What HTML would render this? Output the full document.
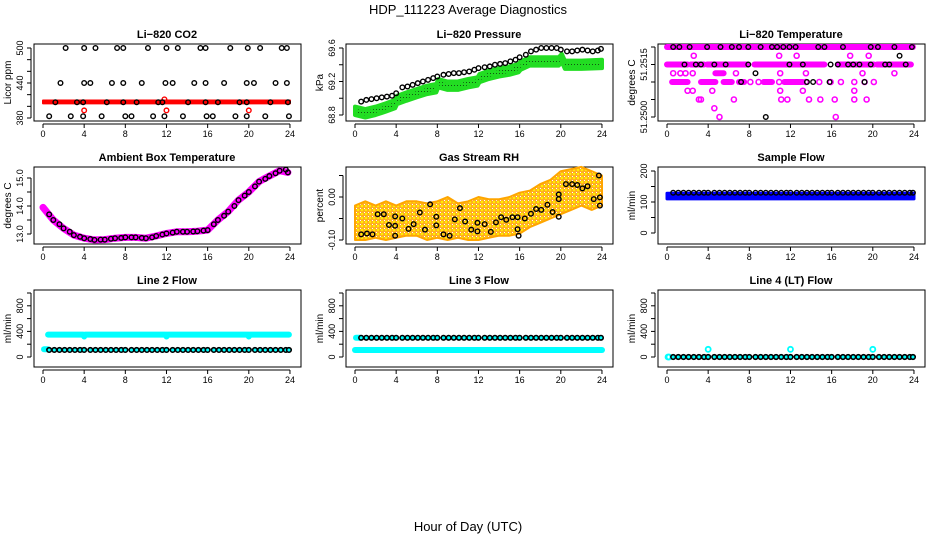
<!DOCTYPE html>
<html><head><meta charset="utf-8"><style>
html,body{margin:0;padding:0;background:#fff}
svg{display:block;font-family:"Liberation Sans",sans-serif}
</style></head><body>
<svg id="chart" width="936" height="540" viewBox="0 0 936 540" xmlns="http://www.w3.org/2000/svg">
<defs>
<pattern id="grnPat" width="3" height="3" patternUnits="userSpaceOnUse"><rect width="3" height="3" fill="#22dd22"/><rect x="1" y="1" width="1" height="1" fill="#115511"/></pattern>
<pattern id="orgPat" width="4" height="4" patternUnits="userSpaceOnUse"><rect width="4" height="4" fill="#ffb020"/><rect x="1" y="1" width="2" height="2" fill="#ffee00"/><rect x="0" y="0" width="1" height="1" fill="#ffffff"/></pattern>
</defs>
<text x="468" y="14" text-anchor="middle" font-size="13">HDP_111223  Average Diagnostics</text>
<text x="468" y="531" text-anchor="middle" font-size="13">Hour of Day (UTC)</text>
<g id="plots"></g>
</svg>
<script>
// ---------- data ----------
const xTicks = [0,4,8,12,16,20,24];
const T = [0.6,1.1,1.6,2.1,2.6,3.1,3.6,4.0,4.6,5.1,5.6,6.1,6.6,7.1,7.6,8.0,8.6,9.1,9.6,10.1,10.6,11.1,11.6,12.0,12.6,13.1,13.6,14.1,14.6,15.1,15.6,16.0,16.6,17.1,17.6,18.1,18.6,19.1,19.6,20.0,20.6,21.1,21.6,22.1,22.6,23.1,23.6,23.9];

// CO2
const co2BlackT = [2.2,4.0,5.1,7.2,7.8,10.2,12.0,13.1,15.3,15.8,18.2,19.9,21.1,23.2,23.7, 1.7,4.0,4.6,6.7,7.8,9.6,11.9,12.6,14.7,15.8,17.6,19.8,20.5,22.6,23.7, 1.2,3.3,3.9,6.2,7.8,9.1,11.2,11.6,14.1,15.8,17.0,19.1,19.8,22.1,23.8, 0.6,2.7,3.9,5.7,8.0,8.6,10.7,11.8,13.6,15.9,16.5,18.7,19.8,21.6,23.9];
const co2BlackV = [500,500,500,500,500,500,500,500,500,500,500,500,500,500,500, 440,440,440,440,440,440,440,440,440,440,440,440,440,440,440, 407,407,407,407,407,407,407,407,407,407,407,407,407,407,407, 383,383,383,383,383,383,383,383,383,383,383,383,383,383,383];
const co2BandT = [0,24];
const co2BandLo = [405,405];
const co2BandHi = [410,410];
const co2RedT = [4.0,12.0,20.0,11.8];
const co2RedV = [393,393,393,412];

// Pressure
const prBlackT = [0.6,1.1,1.6,2.1,2.6,3.1,3.6,4.0,4.6,5.1,5.6,6.1,6.6,7.1,7.6,8.0,8.6,9.1,9.6,10.1,10.6,11.1,11.6,12.0,12.6,13.1,13.6,14.1,14.6,15.1,15.6,16.0,16.6,17.1,17.6,18.1,18.6,19.1,19.6,20.0,20.6,21.1,21.6,22.1,22.6,23.1,23.6,23.9];
const prBlackV = [68.96,68.98,68.99,69.00,69.01,69.02,69.03,69.06,69.13,69.14,69.16,69.18,69.20,69.22,69.24,69.26,69.28,69.29,69.30,69.30,69.31,69.32,69.34,69.36,69.37,69.38,69.40,69.41,69.42,69.44,69.46,69.49,69.52,69.56,69.58,69.60,69.60,69.60,69.60,69.58,69.56,69.56,69.57,69.58,69.57,69.56,69.57,69.59];
const prBandT = [0,1,2,3,3.9,4.1,5,6,7,7.9,8.1,9,10,11,11.9,12.1,13,14,15,15.9,16.1,17,18,19,19.8,20.1,20.4,22,24];
const prBandC = [68.85,68.82,68.85,68.89,68.93,68.98,69.02,69.06,69.10,69.12,69.18,69.15,69.15,69.18,69.20,69.24,69.28,69.31,69.33,69.36,69.39,69.44,69.44,69.44,69.44,69.48,69.40,69.40,69.41];
const prBandHalf = 0.05;

// Li-820 temperature
const tmpSegLevel = [51.2520,51.2515,51.2515,51.2515,51.2515,51.2515,51.2515,51.25125,51.2510,51.2510,51.2510,51.2510,51.2510,51.2510];
const tmpSegStart = [0,0,2.3,3.9,8.5,16.6,20.4,4.7,0.5,3.3,5.5,7.0,9.4,11.4];
const tmpSegEnd = [23.9,2.0,3.6,7.8,15.3,20.1,23.7,5.5,2.0,4.7,6.3,7.5,10.2,13.2];
const tmpPtT = [2.6,10.9,12.6,17.8,19.6, 0.6,1.3,1.8,2.5,6.7,11.0,13.5,19.0,22.1, 8.1,8.9,10.9,13.5,14.8,15.9,16.9,18.2,19.2,20.1, 2.0,2.5,4.4,11.0,13.2,18.2, 3.1,3.3,6.5,11.1,11.7,13.8,14.9,16.3,18.2,19.4, 4.6, 5.1,16.4];
const tmpPtV = [51.25175,51.25175,51.25175,51.25175,51.25175, 51.25125,51.25125,51.25125,51.25125,51.25125,51.25125,51.25125,51.25125,51.25125, 51.2510,51.2510,51.2510,51.2510,51.2510,51.2510,51.2510,51.2510,51.2510,51.2510, 51.25075,51.25075,51.25075,51.25075,51.25075,51.25075, 51.2505,51.2505,51.2505,51.2505,51.2505,51.2505,51.2505,51.2505,51.2505,51.2505, 51.25025, 51.2500,51.2500];
const tmpBlackT = [0.6,1.2,2.2,3.9,5.2,6.3,7.0,7.9,9.1,10.2,10.7,11.3,11.9,12.5,14.7,15.3,17.1,19.8,20.5,22.1,23.8, 1.7,2.8,3.3,4.6,5.7,7.9,11.9,13.2,15.9,16.6,17.6,18.1,18.7,19.8,21.2,21.6,23.2, 8.6, 7.2,13.6,14.2,15.8,19.2, 22.6, 9.6];
const tmpBlackV = [51.2520,51.2520,51.2520,51.2520,51.2520,51.2520,51.2520,51.2520,51.2520,51.2520,51.2520,51.2520,51.2520,51.2520,51.2520,51.2520,51.2520,51.2520,51.2520,51.2520,51.2520, 51.2515,51.2515,51.2515,51.2515,51.2515,51.2515,51.2515,51.2515,51.2515,51.2515,51.2515,51.2515,51.2515,51.2515,51.2515,51.2515,51.2515, 51.25125, 51.2510,51.2510,51.2510,51.2510,51.2510, 51.25175, 51.2500];

// Ambient box temperature
const ambT = [0,1,2,3,4,5,6,7,8,9,10,11,12,13,14,15,16,17,18,19,20,21,22,23,23.8];
const ambV = [13.95,13.5,13.2,12.96,12.85,12.79,12.8,12.85,12.88,12.88,12.85,12.93,13.02,13.08,13.08,13.1,13.14,13.5,13.8,14.21,14.5,14.87,15.07,15.26,15.2];
const ambBlackT = [0.6,1.6,2.6,3.6,4.6,5.6,6.6,7.6,8.6,9.6,10.6,11.6,12.6,13.6,14.6,15.6,16.6,17.6,18.6,19.6,20.6,21.6,22.6,23.6];
const ambBlackV = [13.7,13.35,13.08,12.9,12.82,12.8,12.83,12.86,12.88,12.86,12.88,12.98,13.05,13.08,13.09,13.12,13.35,13.65,14.0,14.37,14.7,14.97,15.17,15.3];

// Gas stream RH
const rhBandT = [0,1,2,3,4,5,6,7,8,9,10,11,12,13,14,15,16,17,18,19,20,21,22,23,24];
const rhBandLo = [-0.10,-0.10,-0.095,-0.10,-0.095,-0.09,-0.09,-0.10,-0.095,-0.10,-0.095,-0.10,-0.10,-0.095,-0.09,-0.09,-0.085,-0.07,-0.06,-0.05,-0.04,-0.03,-0.02,-0.03,-0.02];
const rhBandHi = [-0.02,-0.01,-0.02,-0.01,-0.02,-0.01,-0.01,-0.015,-0.01,0.0,-0.015,-0.01,0.0,-0.005,-0.005,0.0,0.01,0.015,0.03,0.04,0.06,0.065,0.07,0.06,0.05];
const rhBlackT = [0.6,1.16,1.7,2.2,2.8,3.3,3.9,3.9,3.9,4.6,5.2,5.7,6.3,6.8,7.3,7.9,7.9,8.6,9.2,9.7,10.2,10.7,11.3,11.9,11.9,12.6,13.2,13.7,14.2,14.7,15.3,15.8,15.8,15.9,16.5,17.1,17.6,18.1,18.7,19.2,19.8,19.8,19.8,20.5,21.1,21.6,22.1,22.6,23.2,23.7,23.8,23.8];
const rhBlackV = [-0.087,-0.085,-0.087,-0.04,-0.04,-0.065,-0.067,-0.045,-0.09,-0.05,-0.074,-0.063,-0.036,-0.076,-0.017,-0.046,-0.066,-0.087,-0.09,-0.052,-0.026,-0.057,-0.076,-0.06,-0.08,-0.063,-0.081,-0.059,-0.047,-0.053,-0.047,-0.047,-0.075,-0.09,-0.05,-0.039,-0.028,-0.03,-0.018,-0.035,0.006,-0.005,-0.046,0.03,0.03,0.028,0.02,0.025,-0.005,0.05,-0.001,-0.02];

// Sample flow
const sfBandT = [0,24];
const sfBandLo = [110,110];
const sfBandHi = [128,128];
const sfBlackV = 130;

// Line flows
const l2BandT = [0.5,3.9,4.0,4.1,11.9,12.0,12.1,19.9,20.0,20.1,23.9];
const l2BandC = [350,350,320,350,350,320,350,350,320,350,350];
const l2Black = 110;
const l2Cyan0 = 120;
const l3BandT = [0,24];
const l3BandC = [110,110];
const l3Black = 300;
const l3Cyan0 = 300;
const l4Black = 0;
const l4CyanT = [0.1,0.2,4.0,12.0,20.0];
const l4CyanV = [0,0,120,120,120];

// ---------- drawing ----------
const NS = "http://www.w3.org/2000/svg";
const root = document.getElementById('plots');
function mk(tag, attrs, parent){
  const e = document.createElementNS(NS, tag);
  for (const k in attrs) e.setAttribute(k, attrs[k]);
  (parent||root).appendChild(e);
  return e;
}
const rowTop = [44,167,290], rowBot = [121,244,367];

function makePanel(c, r, title, ytitle, yref, ticks, labels, name, fmt){
  const g = mk('g', {});
  
  
  const ox = c*312, top = rowTop[r], bot = rowBot[r];
  const sx = t => ox + 43 + t*10.29;
  const sy = v => top + yref[1] + (v - yref[0])*(yref[3]-yref[1])/(yref[2]-yref[0]);
  const box = mk('rect', {x: ox+34, y: top, width: 267, height: bot-top, fill: 'none', stroke: '#000', 'stroke-width': 1}, g);
  
  
  const tt = mk('text', {x: ox+167, y: top-6, 'text-anchor': 'middle', 'font-size': 11, 'font-weight': 'bold'}, g);
  tt.textContent = title;
  
  
  const xa = mk('g', {}, g);
  
  
  mk('line', {x1: sx(0), x2: sx(24), y1: bot+3, y2: bot+3, stroke: '#000'}, xa);
  xTicks.forEach(t => {
    mk('line', {x1: sx(t), x2: sx(t), y1: bot+3, y2: bot+7, stroke: '#000'}, xa);
    const l = mk('text', {x: sx(t), y: bot+16, 'text-anchor': 'middle', 'font-size': 9}, xa);
    l.textContent = t;
    
    
  });
  const ya = mk('g', {}, g);
  
  
  const ys = ticks.map(sy);
  mk('line', {x1: ox+31, x2: ox+31, y1: Math.min(...ys), y2: Math.max(...ys), stroke: '#000'}, ya);
  ticks.forEach(v => mk('line', {x1: ox+27, x2: ox+31, y1: sy(v), y2: sy(v), stroke: '#000'}, ya));
  labels.forEach(v => {
    const y = sy(v);
    const l = mk('text', {x: ox+23, y: y, 'text-anchor': 'middle', 'font-size': 9, transform: `rotate(-90 ${ox+23} ${y})`}, ya);
    l.textContent = fmt >= 0 ? v.toFixed(fmt) : String(v);
    
    
  });
  const yt = mk('text', {x: ox+11, y: (top+bot)/2, 'text-anchor': 'middle', 'font-size': 10, transform: `rotate(-90 ${ox+11} ${(top+bot)/2})`}, g);
  yt.textContent = ytitle;
  
  
  const marks = mk('g', {}, g);
  
  
  return {sx, sy, g: marks};
}
function circles(P, ts, vs, color, name, r, sw, fill){
  ts.forEach((t,i) => {
    const e = mk('circle', {cx: P.sx(t), cy: P.sy(vs[i]), r: r||2.3, fill: fill||'none', stroke: color, 'stroke-width': sw||1.4}, P.g);
    
    
  });
}
function band(P, ts, lo, hi, fill, stroke, sw, name){
  let d = ts.map((t,i)=>`${i?'L':'M'}${P.sx(t).toFixed(1)},${P.sy(hi[i]).toFixed(1)}`).join('');
  for (let i=ts.length-1;i>=0;i--) d += `L${P.sx(ts[i]).toFixed(1)},${P.sy(lo[i]).toFixed(1)}`;
  const e = mk('path', {d: d+'Z', fill: fill, stroke: stroke, 'stroke-width': sw, 'stroke-linejoin':'round'}, P.g);
  
  
}
function thickLine(P, ts, vs, color, w, name){
  const d = ts.map((t,i)=>`${i?'L':'M'}${P.sx(t).toFixed(1)},${P.sy(vs[i]).toFixed(1)}`).join('');
  const e = mk('path', {d, fill: 'none', stroke: color, 'stroke-width': w, 'stroke-linecap': 'round', 'stroke-linejoin': 'round'}, P.g);
  
  
}
const constArr = (n, v) => Array(n).fill(v);

let P = makePanel(0,0,'Li\u2212820 CO2','Licor ppm',[500,4,380,74],[380,400,420,440,460,480,500],[380,440,500],'co2',-1);
band(P, co2BandT, co2BandLo, co2BandHi, '#ff0000', '#ff0000', 2, 'co2-red-band');
circles(P, co2RedT, co2RedV, '#ff0000', 'co2-red-point');
circles(P, co2BlackT, co2BlackV, '#000', 'co2-black-point');

P = makePanel(1,0,'Li\u2212820 Pressure','kPa',[69.6,4,68.8,71],[68.8,69.0,69.2,69.4,69.6],[68.8,69.2,69.6],'pressure',1);
band(P, prBandT, prBandC.map(v=>v-prBandHalf), prBandC.map(v=>v+prBandHalf), 'url(#grnPat)', '#22dd22', 4, 'pressure-green-band');
circles(P, prBlackT, prBlackV, '#000', 'pressure-black-point');

P = makePanel(2,0,'Li\u2212820 Temperature','degrees C',[51.2520,3,51.2500,73],[51.2500,51.2505,51.2510,51.2515,51.2520],[51.2500,51.2515],'li820-temp',4);
tmpSegLevel.forEach((lv,i)=>thickLine(P,[tmpSegStart[i],tmpSegEnd[i]],[lv,lv],'#ff00ff',6,'temp-magenta-segment'));
circles(P, tmpPtT, tmpPtV, '#ff00ff', 'temp-magenta-point', 2.5, 1.6);
circles(P, tmpBlackT, tmpBlackV, '#000', 'temp-black-point');

P = makePanel(0,1,'Ambient Box Temperature','degrees C',[15.0,11,13.0,67],[13.0,13.5,14.0,14.5,15.0],[13.0,14.0,15.0],'ambient-temp',1);
thickLine(P, ambT, ambV, '#ff00ff', 7, 'ambient-magenta-line');
circles(P, ambT.slice(1), ambV.slice(1), '#000', 'ambient-black-point');
circles(P, ambBlackT, ambBlackV, '#000', 'ambient-black-point');

P = makePanel(1,1,'Gas Stream RH','percent',[0.0,30,-0.10,73],[-0.10,-0.05,0.0,0.05],[-0.10,0.0],'rh',2);
band(P, rhBandT, rhBandLo, rhBandHi, 'url(#orgPat)', '#ffa500', 2, 'rh-orange-band');
circles(P, rhBlackT, rhBlackV, '#000', 'rh-black-point');

P = makePanel(2,1,'Sample Flow','ml/min',[200,4,0,66],[0,50,100,150,200],[0,100,200],'sample-flow',-1);
band(P, sfBandT, sfBandLo, sfBandHi, '#0000ff', '#0000ff', 3, 'sample-flow-blue-band');
circles(P, T, constArr(T.length, sfBlackV), '#000', 'sample-flow-black-point');

P = makePanel(0,2,'Line 2 Flow','ml/min',[1000,3,0,67],[0,200,400,600,800,1000],[0,400,800],'line2-flow',-1);
thickLine(P, l2BandT, l2BandC, '#00ffff', 6, 'line2-cyan-band');
thickLine(P, [0.1,0.5], [l2Cyan0,l2Cyan0], '#00ffff', 6, 'line2-cyan-start');
circles(P, T, constArr(T.length, l2Black), '#000', 'line2-black-point', 2.3, 1.6, '#00ffff');

P = makePanel(1,2,'Line 3 Flow','ml/min',[1000,3,0,67],[0,200,400,600,800,1000],[0,400,800],'line3-flow',-1);
thickLine(P, l3BandT, l3BandC, '#00ffff', 6, 'line3-cyan-band');
thickLine(P, [0.1,0.5], [l3Cyan0,l3Cyan0], '#00ffff', 6, 'line3-cyan-start');
circles(P, T, constArr(T.length, l3Black), '#000', 'line3-black-point', 2.3, 1.6, '#00ffff');

P = makePanel(2,2,'Line 4 (LT) Flow','ml/min',[1000,3,0,67],[0,200,400,600,800,1000],[0,400,800],'line4-flow',-1);
circles(P, l4CyanT, l4CyanV, '#00ffff', 'line4-cyan-point', 2.5, 1.8);
circles(P, T, constArr(T.length, l4Black), '#000', 'line4-black-point', 2.3, 1.6, '#00ffff');
</script>
</body></html>
